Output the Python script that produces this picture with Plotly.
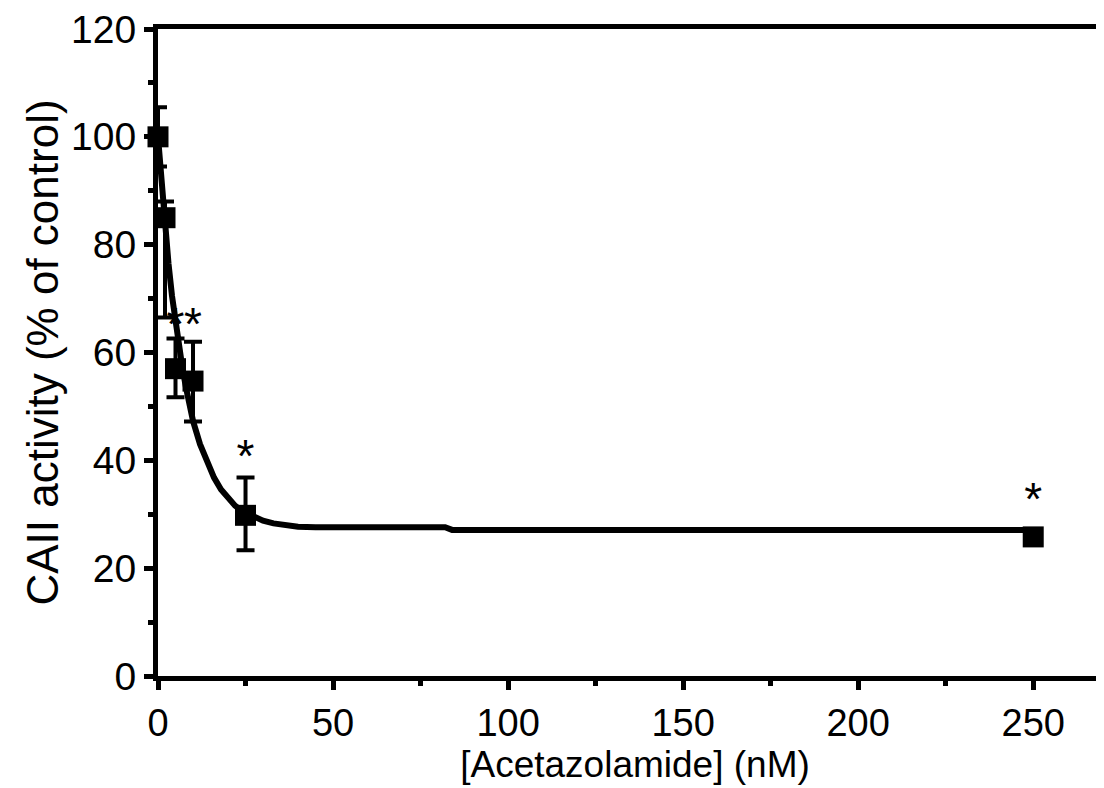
import plotly.graph_objects as go

dose_nm = [0, 2, 5, 10, 25, 250]
activity = [100, 85, 57, 54.7, 29.8, 25.8]
err_plus = [5.5, 3, 5.6, 7.3, 7.0, 0]
err_minus = [5.5, 18.5, 5.3, 7.5, 6.5, 0]

# fitted curve
curve_x = [0, 1, 2, 3, 4, 5, 6, 7, 8, 9, 10, 12, 14, 16, 18, 20, 22, 24, 26, 28, 30, 33, 36, 40, 45, 60, 82, 84, 120, 180, 250]
curve_y = [100, 91, 83, 76.5, 70.5, 65.5, 61, 57, 53.5, 50, 47.3, 43, 39.6, 36.8, 34.6, 32.9, 31.6, 30.6, 29.9, 29.3, 28.8, 28.3, 28.0, 27.7, 27.6, 27.6, 27.6, 27.1, 27.1, 27.1, 27.1]

# significance markers
star_x = [5, 10, 25, 250]
star_y = [64.5, 64.5, 40.0, 32.0]

x_ticks = [0, 50, 100, 150, 200, 250]
y_ticks = [0, 20, 40, 60, 80, 100, 120]

FONT = "Liberation Sans, Arial, Helvetica, sans-serif"

fig = go.Figure()

fig.add_trace(go.Scatter(
    x=curve_x, y=curve_y, mode="lines",
    line=dict(color="black", width=6),
    cliponaxis=False, hoverinfo="skip",
))

fig.add_trace(go.Scatter(
    x=dose_nm, y=activity, mode="markers",
    marker=dict(symbol="square", size=21, color="black"),
    error_y=dict(type="data", symmetric=False, array=err_plus, arrayminus=err_minus,
                 color="black", thickness=4, width=9),
    cliponaxis=False,
))

fig.add_trace(go.Scatter(
    x=star_x, y=star_y, mode="text", text=["*"] * len(star_x),
    textfont=dict(family=FONT, size=46, color="black"),
    textposition="middle center", cliponaxis=False, hoverinfo="skip",
))

fig.update_xaxes(
    range=[0, 272.5], tickvals=x_ticks, ticktext=[str(v) for v in x_ticks],
    showline=True, linecolor="black", linewidth=5, mirror=True,
    ticks="outside", ticklen=9, tickwidth=5, tickcolor="black",
    minor=dict(tickvals=[25, 75, 125, 175, 225], ticks="outside", ticklen=5,
               tickwidth=5, tickcolor="black"),
    showgrid=False, zeroline=False, ticklabeloverflow="allow",
    tickfont=dict(family=FONT, size=38, color="black"),
    title=dict(text="[Acetazolamide] (nM)", font=dict(family=FONT, size=37, color="black"),
               standoff=0),
)
fig.update_yaxes(
    range=[0, 120], tickvals=y_ticks, ticktext=[str(v) for v in y_ticks],
    showline=True, linecolor="black", linewidth=5,
    ticks="outside", ticklen=9, tickwidth=5, tickcolor="black",
    minor=dict(tickvals=[10, 30, 50, 70, 90, 110], ticks="outside", ticklen=5,
               tickwidth=5, tickcolor="black"),
    showgrid=False, zeroline=False, ticklabeloverflow="allow",
    tickfont=dict(family=FONT, size=39, color="black"),
    title=dict(text="CAII activity (% of control)", font=dict(family=FONT, size=44, color="black"),
               standoff=0),
)

fig.update_layout(
    width=1104, height=788,
    margin=dict(l=150, r=0, t=21, b=120),
    paper_bgcolor="white", plot_bgcolor="white",
    showlegend=False,
)

fig.write_html("out.html")
